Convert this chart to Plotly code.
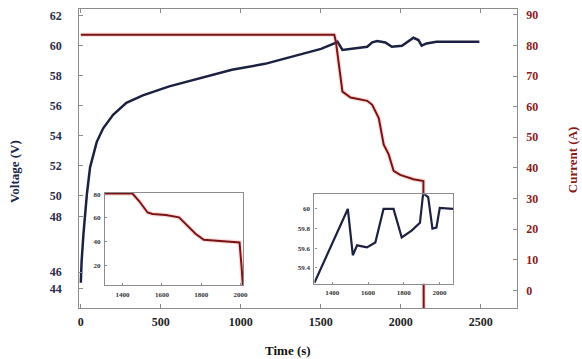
import plotly.graph_objects as go

W, H = 582, 359

# ---------------- data ----------------
# main chart: voltage vs time
time_v = [0, 5, 17, 38, 58, 100, 140, 202, 285, 388, 553, 759, 945, 1152, 1358,
          1502, 1585, 1605, 1636, 1729, 1791, 1822, 1853, 1904, 1945, 2008, 2049,
          2080, 2111, 2131, 2162, 2224, 2492]
voltage = [44.2, 45.6, 47.5, 50.1, 51.9, 53.6, 54.5, 55.4, 56.2, 56.7, 57.3, 57.9,
           58.4, 58.8, 59.4, 59.8, 60.16, 60.28, 59.73, 59.86, 59.94, 60.23, 60.32,
           60.23, 59.94, 60.01, 60.28, 60.54, 60.39, 60.01, 60.16, 60.28, 60.28]

# main chart: current vs time
time_i = [0, 1585, 1595, 1616, 1636, 1687, 1791, 1822, 1863, 1894, 1925, 1956,
          1997, 2080, 2142, 2144]
current = [83.5, 83.5, 81.2, 72.5, 64.9, 63.0, 61.9, 60.6, 56.3, 47.6, 44.4, 39.0,
           37.7, 36.3, 35.7, -6]

# left inset: current zoom
inset_time_i = [1310, 1450, 1485, 1527, 1552, 1620, 1687, 1738, 1771, 1813, 1906,
                1995, 2005, 2012]
inset_current = [80.5, 80.5, 74, 64.6, 63.3, 62.5, 60.5, 52.3, 46.8, 41.8, 40.4,
                 39.5, 20, 3]

# right inset: voltage zoom
inset_time_v = [1300, 1487, 1515, 1539, 1594, 1641, 1687, 1743, 1789, 1844, 1891,
                1909, 1937, 1961, 1983, 2002, 2076]
inset_voltage = [59.25, 60.0, 59.53, 59.63, 59.61, 59.66, 60.0, 60.0, 59.71, 59.78,
                 59.86, 60.16, 60.12, 59.8, 59.81, 60.01, 60.0]

# tick labels
x_ticks = [0, 500, 1000, 1500, 2000, 2500]
v_tick_text = ["62", "60", "58", "56", "54", "52", "50", "48", "46", "44"]
i_ticks = [0, 10, 20, 30, 40, 50, 60, 70, 80, 90]
inset_x_ticks = [1400, 1600, 1800, 2000]
inset_i_ticks = [20, 40, 60, 80]
inset_v_ticks = [59.4, 59.6, 59.8, 60.0]

# ---------------- styling ----------------
RED = "#7a1414"
HALO = "rgba(225,90,90,0.2)"
NAVY = "#1c2142"
BOX = "#8c8c8c"
SERIF = "Liberation Serif"

# where the original figure printed its voltage labels (axis units)
v_tick_pos = [62, 60, 58, 56, 54, 52, 50, 48.6, 44.9, 43.8]

fig = go.Figure()

# main current (halo + line)
fig.add_trace(go.Scatter(x=time_i, y=current, xaxis="x", yaxis="y2", mode="lines",
                         line=dict(color=HALO, width=4.5), hoverinfo="skip"))
fig.add_trace(go.Scatter(x=time_i, y=current, xaxis="x", yaxis="y2", mode="lines",
                         line=dict(color=RED, width=2)))
# main voltage
fig.add_trace(go.Scatter(x=time_v, y=voltage, xaxis="x", yaxis="y", mode="lines",
                         line=dict(color=NAVY, width=2.5)))
# left inset
fig.add_trace(go.Scatter(x=inset_time_i, y=inset_current, xaxis="x3", yaxis="y3",
                         mode="lines", line=dict(color=HALO, width=4.5), hoverinfo="skip"))
fig.add_trace(go.Scatter(x=inset_time_i, y=inset_current, xaxis="x3", yaxis="y3",
                         mode="lines", line=dict(color=RED, width=2)))
# right inset
fig.add_trace(go.Scatter(x=inset_time_v, y=inset_voltage, xaxis="x4", yaxis="y4",
                         mode="lines", line=dict(color=NAVY, width=2.2)))

common = dict(showline=True, linecolor=BOX, linewidth=1.2, ticks="inside",
              tickcolor=BOX, showgrid=False, zeroline=False)

main_x = [79 / W, 521 / W]
main_y = [1 - 308 / H, 1 - 7 / H]

fig.update_layout(
    width=W, height=H, autosize=False,
    margin=dict(l=0, r=0, t=0, b=0),
    paper_bgcolor="white", plot_bgcolor="white",
    showlegend=False,
    xaxis=dict(domain=main_x, range=[-10, 2725], anchor="y", tickvals=x_ticks,
               mirror="ticks", ticklen=4, ticklabelstandoff=2,
               tickfont=dict(family=SERIF, size=12, color="#222222", weight="bold"),
               **common),
    yaxis=dict(domain=main_y, range=[42.5, 62.46], anchor="x", tickvals=v_tick_pos,
               ticktext=v_tick_text, mirror=True, ticklen=4, ticklabelstandoff=14,
               tickfont=dict(family=SERIF, size=12, color="#2a2d4e", weight="bold"),
               **common),
    yaxis2=dict(range=[-5.85, 91.9], overlaying="y", side="right", anchor="x",
                tickvals=i_ticks, ticklen=4, ticklabelstandoff=6,
                tickfont=dict(family=SERIF, size=12, color="#8b1a1a", weight="bold"),
                **common),
    xaxis3=dict(domain=[105 / W, 245 / W], range=[1310, 2015], anchor="y3",
                tickvals=inset_x_ticks, mirror=True, ticklen=2, ticklabelstandoff=2,
                tickfont=dict(family=SERIF, size=7, color="#333333", weight="bold"),
                **common),
    yaxis3=dict(domain=[1 - 285 / H, 1 - 192 / H], range=[3.5, 81], anchor="x3",
                tickvals=inset_i_ticks, mirror=True, ticklen=2, ticklabelstandoff=2,
                tickfont=dict(family=SERIF, size=7, color="#333333", weight="bold"),
                **common),
    xaxis4=dict(domain=[316.7 / W, 456.7 / W], range=[1300, 2076], anchor="y4",
                tickvals=inset_x_ticks, mirror=True, ticklen=2, ticklabelstandoff=2,
                tickfont=dict(family=SERIF, size=7, color="#333333", weight="bold"),
                **common),
    yaxis4=dict(domain=[1 - 283.3 / H, 1 - 193.3 / H], range=[59.24, 60.15], anchor="x4",
                tickvals=inset_v_ticks, mirror=True, ticklen=2, ticklabelstandoff=2,
                tickfont=dict(family=SERIF, size=7, color="#333333", weight="bold"),
                **common),
    annotations=[
        dict(text="Time (s)", x=290 / W, y=1 - 350 / H, xref="paper", yref="paper",
             xanchor="center", yanchor="middle", showarrow=False,
             font=dict(family=SERIF, size=13, color="#111111", weight="bold")),
        dict(text="Voltage (V)", x=13 / W, y=1 - 170 / H, xref="paper", yref="paper",
             xanchor="center", yanchor="middle", showarrow=False, textangle=-90,
             font=dict(family=SERIF, size=13, color="#22264a", weight="bold")),
        dict(text="Current (A)", x=577 / W, y=1 - 159 / H, xref="paper", yref="paper",
             xanchor="center", yanchor="middle", showarrow=False, textangle=-90,
             font=dict(family=SERIF, size=13, color="#8b1a1a", weight="bold")),
    ],
)

fig.write_html("out.html", config={"displayModeBar": False},
               post_script="document.body.style.margin='0';document.body.style.overflow='hidden';")
